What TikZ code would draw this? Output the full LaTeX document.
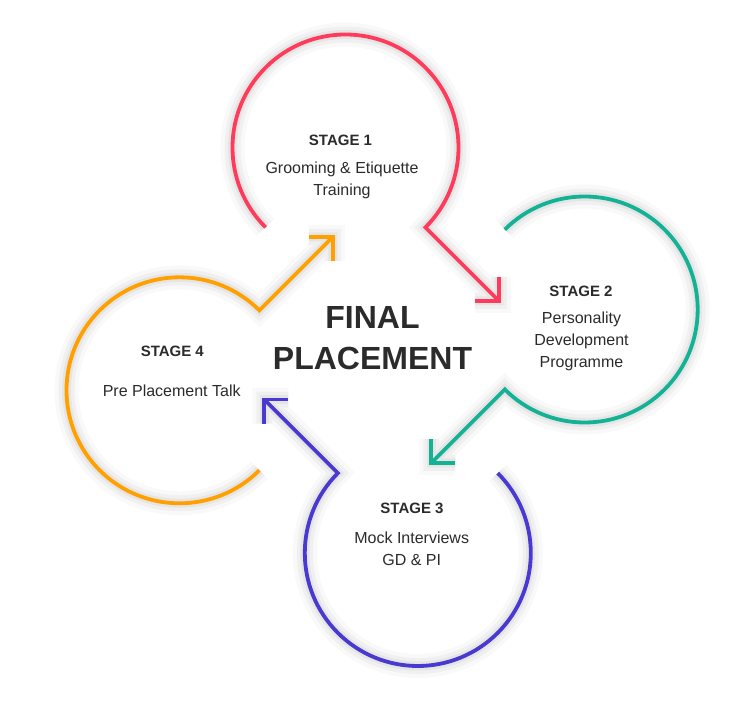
\documentclass[tikz,border=0pt]{standalone}
\usepackage{fontspec}
\setmainfont{Liberation Sans}
\usetikzlibrary{calc}
\definecolor{stred}{RGB}{255,59,92}
\definecolor{stteal}{RGB}{20,178,148}
\definecolor{stpurple}{RGB}{73,57,208}
\definecolor{storange}{RGB}{255,160,0}
\definecolor{txt}{RGB}{43,43,43}
\tikzset{
  ring/.style={circle, minimum size=226pt, inner sep=0pt, outer sep=0pt},
  stage/.style={line width=3.8pt, line join=miter, line cap=butt},
  heading/.style={text=txt, font=\fontsize{15}{18}\selectfont\bfseries},
  body/.style={text=txt, align=center, font=\fontsize{16}{22}\selectfont},
}
\begin{document}
\begin{tikzpicture}[x=1pt, y=1pt]
\useasboundingbox (0,0) rectangle (744,720);
\fill[white] (0,0) rectangle (744,720);
\node[ring] (s1) at (345.5,572.5){};
\node[ring] (s2) at (584.7,410.5){};
\node[ring] (s3) at (417.8,167){};
\node[ring] (s4) at (179.5,329.7){};
% arrow tips
\foreach \s/\dir in {s1/-45, s2/-135, s3/135, s4/45}
  \coordinate (t\s) at ($(\s.\dir)+(\dir:104)$);
% soft shadows
\foreach \s/\sa/\ea/\dir in {s1/225/-45/-45, s2/135/-135/-135, s3/45/-225/135, s4/-45/-315/45}{
  \foreach \w/\o in {24/0.025, 16/0.035, 9/0.045}{
    \draw[stage, black, opacity=\o, line width=\w pt, shift={(-8,-9)}]
      (\s.\sa) arc[start angle=\sa, end angle=\ea, radius=113] -- (t\s)
      ($(t\s)+(\dir+135:24)$) -- (t\s) -- ++(\dir-135:24);
  }
}
% rings with arrows
\foreach \s/\sa/\ea/\dir/\col in {s1/225/-45/-45/stred, s2/135/-135/-135/stteal, s3/45/-225/135/stpurple, s4/-45/-315/45/storange}{
  \draw[stage, \col] (\s.\sa) arc[start angle=\sa, end angle=\ea, radius=113] -- (t\s);
  \draw[stage, \col] ($(t\s)+(\dir+135:24)$) -- (t\s) -- ++(\dir-135:24);
}
\node[heading] (h1) at (340.5,580){STAGE 1};
\node[body] (b1) at (342,540){Grooming \& Etiquette\\Training};
\node[heading] (h2) at (581,428.3){STAGE 2};
\node[body] (b2) at (581.5,378.7){Personality\\Development\\Programme};
\node[heading] (h3) at (412,211.7){STAGE 3};
\node[body] (b3) at (411.7,171){Mock Interviews\\GD \& PI};
\node[heading] (h4) at (172.3,369){STAGE 4};
\node[body] (b4) at (171.7,329){Pre Placement Talk};
\node[text=txt, align=center, font=\fontsize{32}{41}\selectfont\bfseries] (final) at (372.5,381.5){FINAL\\PLACEMENT};
\end{tikzpicture}
\end{document}
